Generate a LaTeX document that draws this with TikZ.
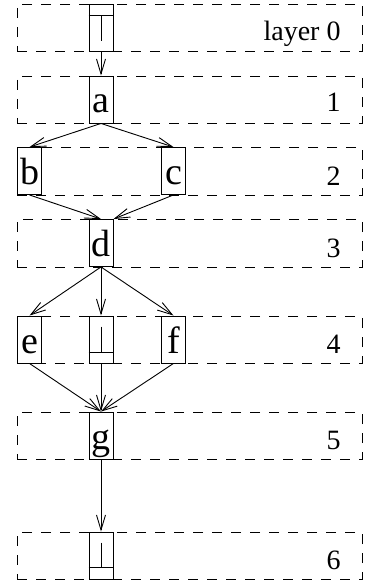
\documentclass[tikz,border=0pt]{standalone}
\usepackage{fontspec}
\setmainfont{Liberation Serif}
\usetikzlibrary{arrows.meta,calc}
\begin{document}
\begin{tikzpicture}[x=1pt,y=-1pt,
  line width=0.9pt,
  layerbox/.style={draw, dash pattern=on 10pt off 9pt},
  vnode/.style={draw, fill=white, minimum width=24pt, minimum height=47pt, inner sep=0pt,
    text height=37pt, text depth=10pt, font=\fontsize{38}{40}\selectfont},
  dummy/.style={draw, fill=white, minimum width=24pt, minimum height=47pt, inner sep=0pt},
  laylabel/.style={anchor=base east, inner sep=0pt, font=\fontsize{28}{30}\selectfont},
  edge/.style={-{Straight Barb[length=15pt,width=9pt]}}
]
\useasboundingbox (0,0) rectangle (366,580);
% layers
\draw[layerbox] (17,51) -- (362,51) -- (362,4) -- (17,4) -- cycle;
\draw[layerbox] (17,123) -- (362,123) -- (362,76) -- (17,76) -- cycle;
\draw[layerbox] (17,195) -- (362,195) -- (362,147) -- (17,147) -- cycle;
\draw[layerbox] (17,267) -- (362,267) -- (362,219) -- (17,219) -- cycle;
\draw[layerbox] (17,363) -- (362,363) -- (362,316) -- (17,316) -- cycle;
\draw[layerbox] (17,459) -- (362,459) -- (362,412) -- (17,412) -- cycle;
\draw[layerbox] (17,579) -- (362,579) -- (362,532) -- (17,532) -- cycle;
% layer labels
\node[laylabel] (l0) at (341,41) {layer 0};
\node[laylabel] (l1) at (341,112) {1};
\node[laylabel] (l2) at (341,185) {2};
\node[laylabel] (l3) at (341,257) {3};
\node[laylabel] (l4) at (341,353) {4};
\node[laylabel] (l5) at (341,449) {5};
\node[laylabel] (l6) at (341,569) {6};
% nodes
\node[dummy] (t0) at (101,27.5) {};
\node[vnode] (a) at (101,99.5) {a};
\node[vnode] (b) at (29.5,171) {b};
\node[vnode] (c) at (173.5,171) {c};
\node[vnode] (d) at (101,243) {d};
\node[vnode] (e) at (29.5,339.5) {e};
\node[dummy] (t4) at (101,339.5) {};
\node[vnode] (f) at (173.5,339.5) {f};
\node[vnode] (g) at (101,435.5) {g};
\node[dummy] (t6) at (101,555.5) {};
% dummy decorations
\draw ($(t0.north west)+(0,12)$) -- ($(t0.north east)+(0,12)$);
\draw ($(t0.north)+(0,12)$) -- ($(t0.north)+(0,37)$);
\draw ($(t4.south west)+(0,-11)$) -- ($(t4.south east)+(0,-11)$);
\draw ($(t4.north)+(0,11)$) -- ($(t4.south)+(0,-11)$);
\draw ($(t6.south west)+(0,-12)$) -- ($(t6.south east)+(0,-12)$);
\draw ($(t6.north)+(0,11)$) -- ($(t6.south)+(0,-12)$);
% edges
\draw[edge] (t0.south) -- (a.north);
\draw[edge] (a.south) -- (b.north);
\draw[edge] (a.south) -- (c.north);
\draw[edge] (b.south) -- (d.north);
\draw[edge] (c.south) -- (d.north east);
\draw[edge] (d.south) -- (e.north);
\draw[edge] (d.south) -- (t4.north);
\draw[edge] (d.south) -- (f.north);
\draw[edge] (e.south) -- (g.north);
\draw[edge] (t4.south) -- (g.north);
\draw[edge] (f.south) -- (g.north);
\draw[edge] (g.south) -- (t6.north);
\end{tikzpicture}
\end{document}
